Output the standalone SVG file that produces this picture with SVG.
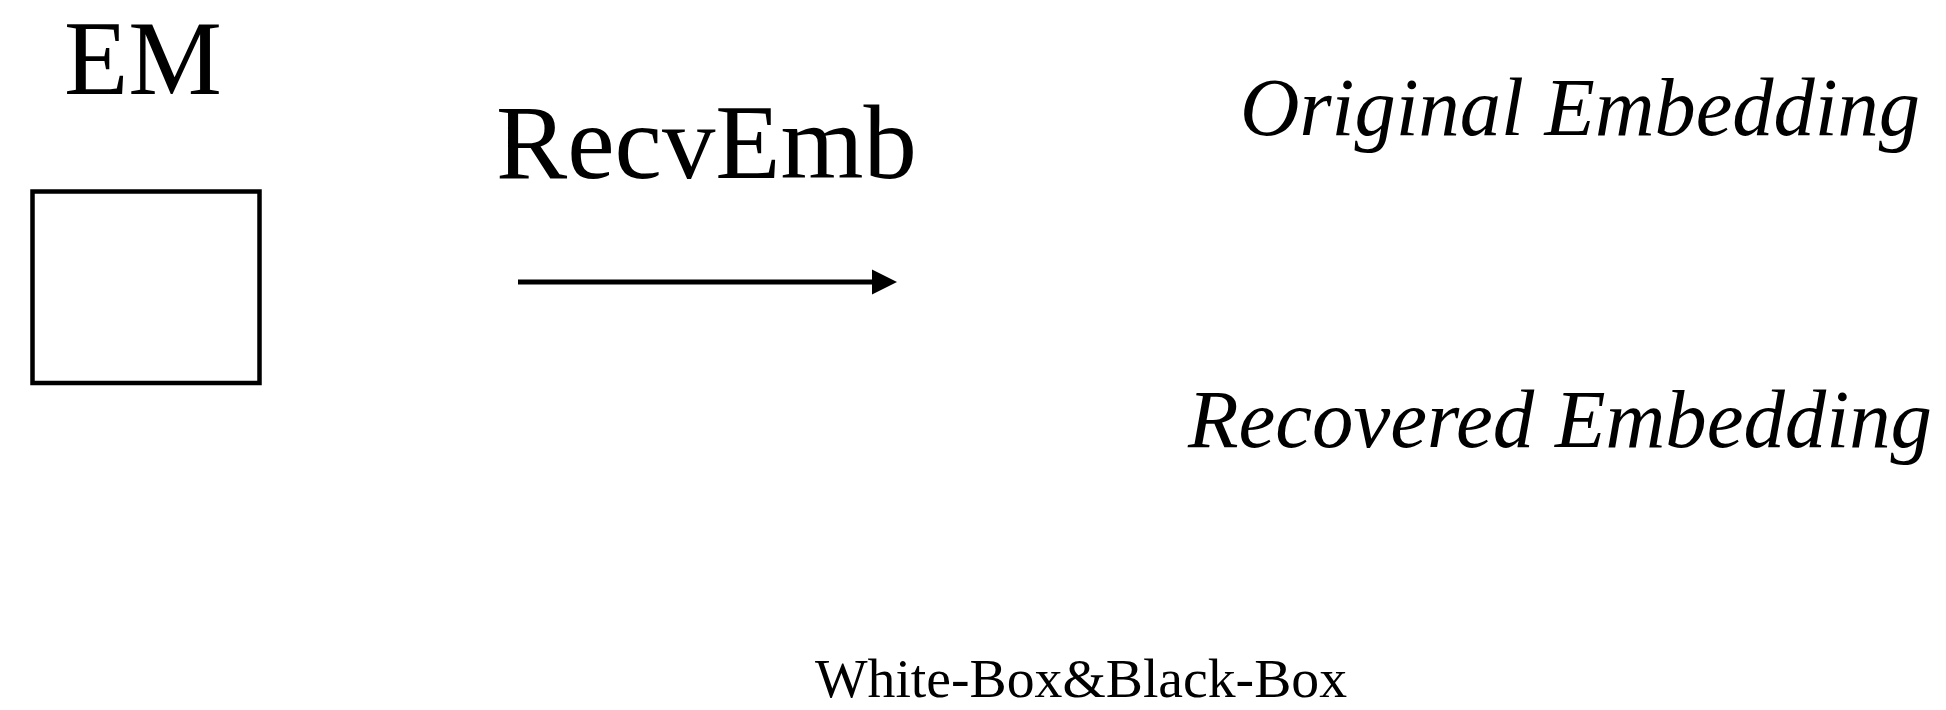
<svg xmlns="http://www.w3.org/2000/svg" width="1946" height="710" viewBox="0 0 1946 710">
<style>
.t{font-family:"Liberation Serif","Times New Roman",serif;fill:#000}
.it{font-style:italic}
.box{fill:#fff;stroke:#000;stroke-width:4.5}
.conn{stroke:#000;stroke-width:5;fill:none}
</style>
<defs>
<marker id="ah" markerUnits="userSpaceOnUse" markerWidth="26" markerHeight="26" viewBox="0 0 26 26" refX="1" refY="13" orient="auto">
<polygon points="0,0.5 25,13 0,25.5" fill="#000"/>
</marker>
</defs>
<rect width="1946" height="710" fill="#fff"/>
<g id="em">
<text class="t" x="64" y="94" font-size="105" textLength="158" lengthAdjust="spacingAndGlyphs">EM</text>
<rect class="box" x="32.5" y="191.5" width="227" height="191.5"/>
</g>
<g id="recvemb">
<text class="t" x="496" y="178" font-size="106" textLength="421" lengthAdjust="spacingAndGlyphs">RecvEmb</text>
</g>
<g id="connectors">
<line class="conn" x1="518" y1="282" x2="873" y2="282" marker-end="url(#ah)"/>
</g>
<g id="original">
<text class="t it" x="1240" y="135" font-size="82" textLength="680" lengthAdjust="spacingAndGlyphs">Original Embedding</text>
</g>
<g id="recovered">
<text class="t it" x="1188" y="447" font-size="82" textLength="744" lengthAdjust="spacingAndGlyphs">Recovered Embedding</text>
</g>
<g id="caption">
<text class="t" x="815" y="697" font-size="55" textLength="532" lengthAdjust="spacingAndGlyphs">White-Box&amp;Black-Box</text>
</g>
</svg>
